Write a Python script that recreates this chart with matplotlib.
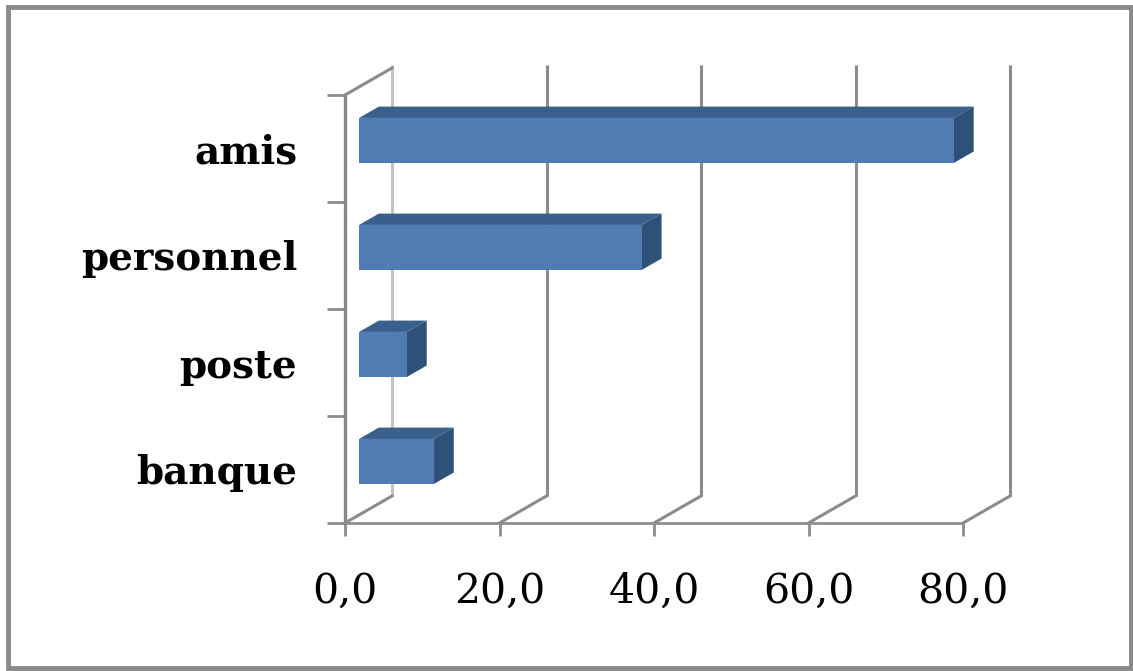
import matplotlib
matplotlib.use("Agg")
import matplotlib.pyplot as plt
from matplotlib.patches import Polygon, Rectangle

# Survey answers (percent), bottom to top
categories = ["banque", "poste", "personnel", "amis"]
values = [9.7, 6.2, 36.6, 77.0]
x_ticks = [0, 20, 40, 60, 80]
x_tick_labels = ["0,0", "20,0", "40,0", "60,0", "80,0"]

W, H = 1133, 671
fig = plt.figure(figsize=(W / 100, H / 100), dpi=100)
fig.patch.set_facecolor("white")

# Front plane of the pseudo-3D box
left_px, right_px, top_px, bottom_px = 345, 963, 95, 523
ax = fig.add_axes([left_px / W, (H - bottom_px) / H,
                   (right_px - left_px) / W, (bottom_px - top_px) / H])
xmax = x_ticks[-1]
ncat = len(categories)
ax.set_xlim(0, xmax)
ax.set_ylim(0, ncat)
for s in ax.spines.values():
    s.set_visible(False)
ax.set_facecolor("none")

# Oblique depth vector expressed in data units
px_per_x = (right_px - left_px) / xmax
px_per_y = (bottom_px - top_px) / ncat
DX = 47 / px_per_x
DY = 27 / px_per_y

grid_c = "#8c8c8c"
grid_lw = 2.2

# Back wall gridlines and floor diagonals
for t in x_ticks:
    col = "#c4c4c4" if t == 0 else grid_c
    ax.plot([t + DX, t + DX], [DY, ncat + DY + 0.03], color=col, lw=grid_lw,
            clip_on=False, zorder=1, solid_capstyle="butt")
    ax.plot([t, t + DX], [0, DY], color=grid_c, lw=grid_lw,
            clip_on=False, zorder=1)
# Top edge of the side wall
ax.plot([0, DX], [ncat, ncat + DY], color=grid_c, lw=grid_lw,
        clip_on=False, zorder=1)

# Front axis lines
ax.plot([0, 0], [0, ncat], color="#888888", lw=2.4, clip_on=False, zorder=2,
        solid_capstyle="butt")
ax.plot([0, xmax], [0, 0], color="#8e8e8e", lw=2.0, clip_on=False, zorder=2,
        solid_capstyle="butt")

# Bars drawn as oblique boxes
f0, f1 = 0.30, 0.72
bar_h = 0.42
front_c, top_c, side_c = "#4e7cb3", "#3a5f8d", "#2f5179"
for i, v in enumerate(values):
    c = i + 0.5
    x0a, x0b = f0 * DX, f0 * DX + v
    x1a, x1b = f1 * DX, f1 * DX + v
    yb0, yt0 = c - bar_h / 2 + f0 * DY, c + bar_h / 2 + f0 * DY
    yb1, yt1 = c - bar_h / 2 + f1 * DY, c + bar_h / 2 + f1 * DY
    top = Polygon([(x0a, yt0), (x0b, yt0), (x1b, yt1), (x1a, yt1)],
                  closed=True, facecolor=top_c, edgecolor="none",
                  clip_on=False, zorder=3)
    side = Polygon([(x0b, yb0), (x0b, yt0), (x1b, yt1), (x1b, yb1)],
                   closed=True, facecolor=side_c, edgecolor="none",
                   clip_on=False, zorder=3)
    front = Polygon([(x0a, yb0), (x0b, yb0), (x0b, yt0), (x0a, yt0)],
                    closed=True, facecolor=front_c, edgecolor="none",
                    clip_on=False, zorder=4)
    for p in (top, side, front):
        ax.add_patch(p)
    ax.text(-48 / px_per_x, c - 15 / px_per_y, categories[i],
            ha="right", va="baseline", fontsize=28, fontweight="bold",
            family="DejaVu Serif", color="black")

# Ticks
ax.set_xticks(x_ticks, x_tick_labels)
ax.tick_params(axis="x", direction="out", length=9.4, width=2.0,
               color=grid_c, pad=26, labelsize=29.5)
for lbl in ax.get_xticklabels():
    lbl.set_fontfamily("DejaVu Serif")
ax.set_yticks(range(ncat + 1), [""] * (ncat + 1))
ax.tick_params(axis="y", direction="out", length=13, width=2.0, color=grid_c)

# Outer chart border
fig.patches.append(Rectangle((8 / W, 3 / H), (1131 - 8) / W, (664 - 3) / H,
                             transform=fig.transFigure, fill=False,
                             edgecolor="#8a8a8a", linewidth=3.5))

fig.savefig("out.png", dpi=100, facecolor="white")
